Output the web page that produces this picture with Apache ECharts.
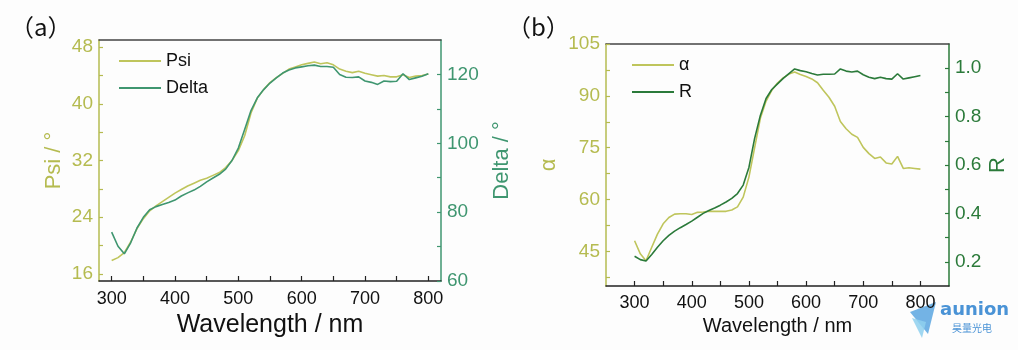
<!DOCTYPE html>
<html>
<head>
<meta charset="utf-8">
<script src="https://cdn.jsdelivr.net/npm/echarts@6/dist/echarts.min.js"></script>
<style>html,body{margin:0;padding:0;background:#fdfdfd;}#c{width:1018px;height:350px;}</style>
</head>
<body>
<div id="c"></div>
<script>
const wavelength = [300,310,320,330,340,350,360,370,380,390,400,410,420,430,440,450,460,470,480,490,500,510,520,530,540,550,560,570,580,590,600,610,620,630,640,650,660,670,680,690,700,710,720,730,740,750,760,770,780,790,800];
const psi = [17.9,18.3,19.0,20.5,22.4,23.8,24.9,25.6,26.2,26.8,27.4,27.9,28.4,28.8,29.2,29.5,29.9,30.3,31.0,32.0,33.4,35.5,38.7,40.8,42.0,43.0,43.7,44.3,44.9,45.2,45.5,45.7,45.9,45.65,45.8,45.5,44.9,44.6,44.4,44.6,44.3,44.1,43.9,44.0,43.8,43.8,44.1,43.7,43.9,44.0,44.2];
const delta = [74.2,70.1,67.9,71.1,75.4,78.5,80.7,81.6,82.2,82.8,83.5,84.7,85.6,86.4,87.5,88.8,89.9,91.0,92.5,95.0,98.6,104,109.5,113.2,115.6,117.5,119.0,120.4,121.3,121.9,122.2,122.5,122.7,122.3,122.3,122.1,120.0,119.2,119.1,119.3,118.1,117.7,117.1,118.1,117.9,118.0,120.2,118.5,119.0,119.5,120.2];
const alpha = [48.1,44.3,42.3,46.2,50.0,53.0,54.8,55.8,55.9,55.9,55.7,56.3,56.4,56.6,56.6,56.6,56.6,57.0,57.9,60.7,66.5,75.0,83.5,88.5,91.6,93.7,95.2,96.3,96.9,96.2,95.6,94.9,93.8,91.6,89.6,87.0,82.6,80.5,78.9,78.0,75.1,73.3,71.9,72.3,70.6,70.3,72.5,69.0,69.2,69.0,68.8];
const reflect = [0.223,0.209,0.203,0.230,0.260,0.287,0.309,0.327,0.341,0.354,0.368,0.384,0.400,0.412,0.422,0.434,0.447,0.462,0.482,0.517,0.590,0.710,0.805,0.875,0.912,0.935,0.958,0.978,0.997,0.990,0.985,0.978,0.972,0.975,0.975,0.976,0.997,0.988,0.984,0.988,0.973,0.963,0.957,0.963,0.957,0.955,0.977,0.955,0.960,0.965,0.970];

const xTickLabels = [300,400,500,600,700,800];
const xTicks = [300,350,400,450,500,550,600,650,700,750,800];
const psiLabels = [16,24,32,40,48];
const psiTicks = [16,20,24,28,32,36,40,44,48];
const deltaLabels = [60,80,100,120];
const deltaTicks = [60,70,80,90,100,110,120];
const alphaLabels = [45,60,75,90,105];
const alphaTicks = [37.5,45,52.5,60,67.5,75,82.5,90,97.5,105];
const rLabels = [0.2,0.4,0.6,0.8,1.0];
const rTicks = [0.2,0.3,0.4,0.5,0.6,0.7,0.8,0.9,1.0];

const FONT = 'Liberation Sans, Arial, sans-serif';
const cYel = '#bfc55c';
const cYelTxt = '#b5bb50';
const cDelta = '#3f9670';
const cR = '#2b7a3a';
const cBlack = '#222';

function pairs(xs, ys){ return xs.map((x,i)=>[x, ys[i]]); }

function xAx(gi, min, max, nameGap, nameSize, labelMargin){
  return {
    type:'value', gridIndex:gi, min:min, max:max, position:'bottom',
    name:'Wavelength / nm', nameLocation:'middle', nameGap:nameGap,
    nameTextStyle:{fontFamily:FONT, fontSize:nameSize, color:'#111'},
    axisLine:{show:true, onZero:false, lineStyle:{color:cBlack, width:1.5}},
    axisTick:{show:true, inside:true, length:5, customValues:xTicks, lineStyle:{color:cBlack, width:1.2}},
    axisLabel:{customValues:xTickLabels, fontFamily:FONT, fontSize:18, color:'#111', margin:labelMargin},
    splitLine:{show:false}
  };
}
function xTop(gi, min, max){
  return {
    type:'value', gridIndex:gi, min:min, max:max, position:'top',
    axisLine:{show:true, onZero:false, lineStyle:{color:'#444', width:1.5}},
    axisTick:{show:false}, axisLabel:{show:false}, splitLine:{show:false}
  };
}
function yAx(gi, pos, min, max, name, nameGap, color, labels, ticks, fmt){
  return {
    type:'value', gridIndex:gi, position:pos, min:min, max:max,
    name:name, nameLocation:'middle', nameGap:nameGap, nameRotate:90,
    nameTextStyle:{fontFamily:FONT, fontSize:22, color:color},
    axisLine:{show:true, onZero:false, lineStyle:{color:color, width:1.5}},
    axisTick:{show:true, inside:true, length:4, customValues:ticks, lineStyle:{color:color, width:1.2}},
    axisLabel:{customValues:labels, fontFamily:FONT, fontSize:19, color:color, margin:6,
      formatter: fmt || (v=>String(v))},
    splitLine:{show:false}
  };
}

const chart = echarts.init(document.getElementById('c'), null, {renderer:'canvas'});
chart.setOption({
  backgroundColor:'#fdfdfd',
  animation:false,
  grid:[
    {left:99, right:577, top:40, bottom:69, containLabel:false},
    {left:606, right:69, top:44, bottom:64, containLabel:false}
  ],
  xAxis:[
    xAx(0, 280, 820, 24, 25, 9),
    xAx(1, 250, 850, 25, 20, 8),
    xTop(0, 280, 820),
    xTop(1, 250, 850)
  ],
  yAxis:[
    yAx(0, 'left', 15, 49, 'Psi / °', 34, cYelTxt, psiLabels, psiTicks),
    yAx(0, 'right', 60, 130, 'Delta / °', 50, cDelta, deltaLabels, deltaTicks),
    yAx(1, 'left', 35, 105, 'α', 46, cYelTxt, alphaLabels, alphaTicks),
    yAx(1, 'right', 0.1, 1.1, 'R', 38, cR, rLabels, rTicks, v=>Number(v).toFixed(1))
  ],
  legend:[
    {data:['Psi','Delta'], left:114, top:47, orient:'vertical', itemWidth:42, itemHeight:14, itemGap:9,
     icon:'path://M0,6 L42,6 L42,8 L0,8 Z',
     textStyle:{fontFamily:FONT, fontSize:18, color:'#111'}},
    {data:['α','R'], left:627, top:51, orient:'vertical', itemWidth:42, itemHeight:14, itemGap:9,
     icon:'path://M0,6 L42,6 L42,8 L0,8 Z',
     textStyle:{fontFamily:FONT, fontSize:18, color:'#111'}}
  ],
  series:[
    {name:'Psi', type:'line', xAxisIndex:0, yAxisIndex:0, data:pairs(wavelength, psi), symbol:'none',
     lineStyle:{color:cYel, width:1.6}, itemStyle:{color:cYel}},
    {name:'Delta', type:'line', xAxisIndex:0, yAxisIndex:1, data:pairs(wavelength, delta), symbol:'none',
     lineStyle:{color:cDelta, width:1.6}, itemStyle:{color:cDelta}},
    {name:'α', type:'line', xAxisIndex:1, yAxisIndex:2, data:pairs(wavelength, alpha), symbol:'none',
     lineStyle:{color:cYel, width:1.6}, itemStyle:{color:cYel}},
    {name:'R', type:'line', xAxisIndex:1, yAxisIndex:3, data:pairs(wavelength, reflect), symbol:'none',
     lineStyle:{color:cR, width:1.6}, itemStyle:{color:cR}}
  ],
  graphic:[
    {type:'text', left:10, top:15, style:{text:'（a）', fontFamily:'Noto Sans CJK SC', fontSize:24, fill:'#111'}},
    {type:'text', left:507, top:15, style:{text:'（b）', fontFamily:'Noto Sans CJK SC', fontSize:24, fill:'#111'}},
    {type:'polygon', shape:{points:[[910,312],[936,302],[928,334]]}, style:{fill:'#5aa6e0', opacity:0.85}},
    {type:'polygon', shape:{points:[[912,318],[926,322],[922,338]]}, style:{fill:'#8fd0ee', opacity:0.85}},
    {type:'text', left:940, top:301, style:{text:'aunion', fontFamily:'DejaVu Sans, sans-serif', fontWeight:'bold', fontSize:18, fill:'#4a93d6'}},
    {type:'text', left:952, top:323, style:{text:'昊量光电', fontFamily:'Noto Sans CJK SC', fontSize:10, fill:'#4a93d6'}}
  ]
});
</script>
</body>
</html>
